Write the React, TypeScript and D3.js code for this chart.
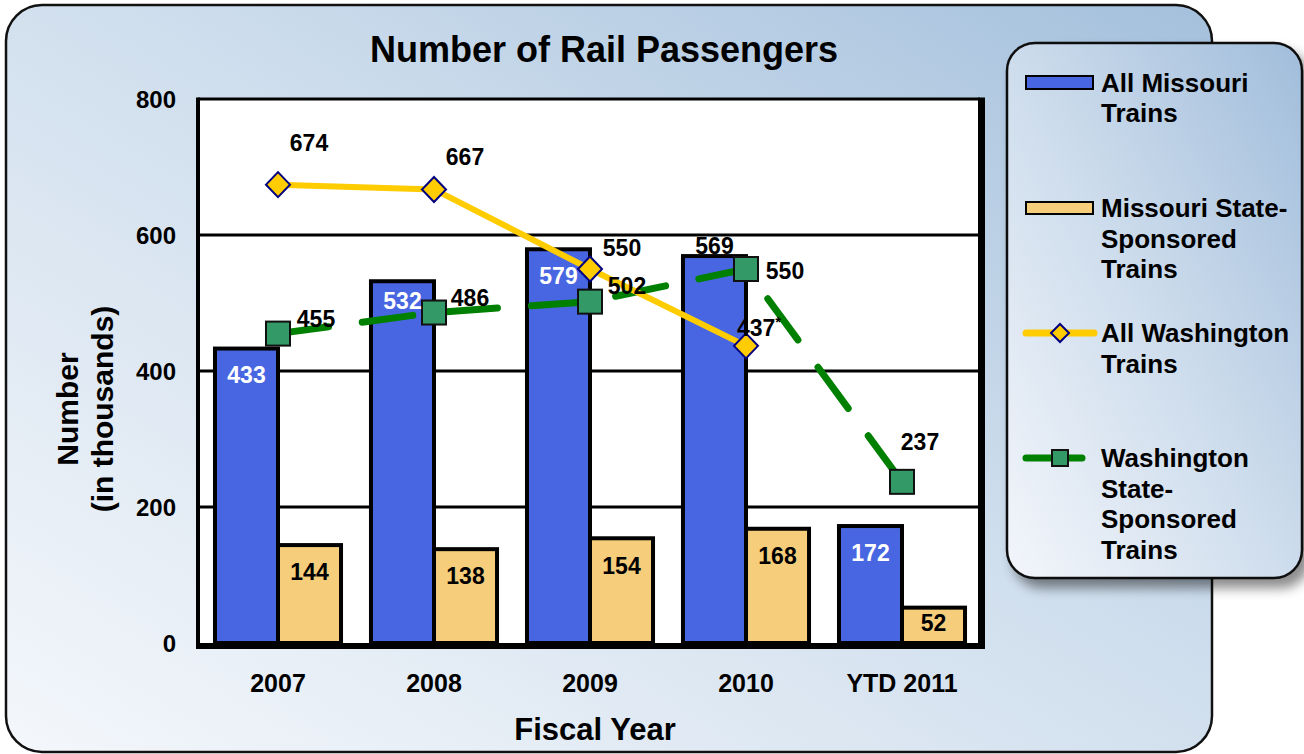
import React from "react";
import * as d3 from "d3";

const categories = ["2007", "2008", "2009", "2010", "YTD 2011"];
const allMissouri = [433, 532, 579, 569, 172];
const moStateSponsored = [144, 138, 154, 168, 52];
const allWashington = [674, 667, 550, 437];
const waStateSponsored = [455, 486, 502, 550, 237];
const yTicks = [0, 200, 400, 600, 800];

// label offsets (relative to the marker) for line series
const washLabelOffsets: [number, number][] = [[31, -42], [31, -32], [32, -21], [13, -18]];
const waStateLabelOffsets: [number, number][] = [[38, -15], [36, -15], [37, -16], [39, 2], [18, -40]];
// label offsets (from top of bar) for bars
const blueLabelDy = [26, 20, 27, -10, 27];
const blueLabelInside = [true, true, true, false, true];
const tanLabelDy = [27, 27, 28, 27, 15];

const FONT = "'Liberation Sans', Arial, sans-serif";
const BLUE = "#4866E1";
const TAN = "#F6CE7B";
const YELLOW = "#FFCC00";
const GREEN = "#008000";
const SQUARE = "#339966";

export default function App() {
  const W = 1304, H = 754;
  const plotL = 198, plotR = 980, plotT = 99, plotB = 643;
  const x = d3.scaleBand<string>().domain(categories).range([200, 980]).paddingInner(0.192).paddingOuter(0.096);
  const y = d3.scaleLinear().domain([0, 800]).range([plotB, plotT]);
  const bw = x.bandwidth();
  const half = bw / 2;
  const cx = (i: number) => (x(categories[i]) as number) + half;

  const line = d3.line<number>().x((_, i) => cx(i)).y((d) => y(d));

  return (
    <svg width={W} height={H} style={{ position: "absolute", left: 0, top: 0 }} fontFamily={FONT}>
      <defs>
        <linearGradient id="panelGrad" x1="0" y1="1" x2="1" y2="0">
          <stop offset="0" stopColor="#f4f7fb" />
          <stop offset="0.55" stopColor="#cfdeed" />
          <stop offset="1" stopColor="#a4c0dc" />
        </linearGradient>
        <linearGradient id="legGrad" x1="0" y1="1" x2="1" y2="0">
          <stop offset="0" stopColor="#f3f6fb" />
          <stop offset="0.5" stopColor="#cddcec" />
          <stop offset="1" stopColor="#a1bddb" />
        </linearGradient>
        <filter id="shadow" x="-10%" y="-10%" width="130%" height="130%">
          <feDropShadow dx="7" dy="9" stdDeviation="6" floodColor="#000" floodOpacity="0.45" />
        </filter>
      </defs>

      {/* outer panel */}
      <rect x={6} y={5} width={1206} height={747} rx={36} ry={36} fill="url(#panelGrad)" stroke="#111" strokeWidth={2.5} />

      {/* title */}
      <text x={604} y={62} textAnchor="middle" fontSize={36} fontWeight="bold" fill="#000">Number of Rail Passengers</text>

      {/* plot area */}
      <rect x={plotL} y={plotT} width={plotR - plotL} height={plotB - plotT} fill="#fff" />
      {yTicks.filter((t) => t > 0 && t < 800).map((t) => (
        <line key={t} x1={plotL} x2={plotR} y1={y(t)} y2={y(t)} stroke="#000" strokeWidth={3} />
      ))}

      {/* bars */}
      {allMissouri.map((v, i) => (
        <rect key={"b" + i} x={x(categories[i]) as number} y={y(v)} width={half} height={plotB - y(v)} fill={BLUE} stroke="#000" strokeWidth={4} />
      ))}
      {moStateSponsored.map((v, i) => (
        <rect key={"t" + i} x={cx(i)} y={y(v)} width={half} height={plotB - y(v)} fill={TAN} stroke="#000" strokeWidth={4} />
      ))}

      {/* frame */}
      <line x1={plotL} x2={plotR} y1={plotT} y2={plotT} stroke="#000" strokeWidth={3} />
      <line x1={plotL} x2={plotL} y1={plotT - 1.5} y2={plotB + 6} stroke="#000" strokeWidth={4} />
      <line x1={plotR + 1.5} x2={plotR + 1.5} y1={plotT - 1.5} y2={plotB + 6} stroke="#000" strokeWidth={7} />
      <line x1={plotL - 2} x2={plotR + 5} y1={plotB + 3} y2={plotB + 3} stroke="#000" strokeWidth={6} />

      {/* green dashed line */}
      <path d={line(waStateSponsored) as string} fill="none" stroke={GREEN} strokeWidth={7} strokeDasharray="51 34" strokeLinecap="round" />
      {/* yellow line */}
      <path d={line(allWashington) as string} fill="none" stroke={YELLOW} strokeWidth={6} strokeLinejoin="round" />

      {/* markers */}
      {waStateSponsored.map((v, i) => (
        <rect key={"s" + i} x={cx(i) - 12} y={y(v) - 12} width={24} height={24} fill={SQUARE} stroke="#111" strokeWidth={2} />
      ))}
      {allWashington.map((v, i) => (
        <path key={"d" + i} d={`M${cx(i)},${y(v) - 12.5}L${cx(i) + 12},${y(v)}L${cx(i)},${y(v) + 12.5}L${cx(i) - 12},${y(v)}Z`} fill={YELLOW} stroke="#000080" strokeWidth={2} />
      ))}

      {/* bar labels */}
      {allMissouri.map((v, i) => (
        <text key={"bl" + i} x={(x(categories[i]) as number) + half / 2} y={y(v) + blueLabelDy[i]} textAnchor="middle" dominantBaseline="central" fontSize={23} fontWeight="bold" fill={blueLabelInside[i] ? "#fff" : "#000"}>{v}</text>
      ))}
      {moStateSponsored.map((v, i) => (
        <text key={"tl" + i} x={cx(i) + half / 2} y={y(v) + tanLabelDy[i]} textAnchor="middle" dominantBaseline="central" fontSize={23} fontWeight="bold" fill="#000">{v}</text>
      ))}
      {/* line labels */}
      {waStateSponsored.map((v, i) => (
        <text key={"gl" + i} x={cx(i) + waStateLabelOffsets[i][0]} y={y(v) + waStateLabelOffsets[i][1]} textAnchor="middle" dominantBaseline="central" fontSize={23} fontWeight="bold" fill="#000">{v}</text>
      ))}
      {allWashington.map((v, i) => (
        <text key={"yl" + i} x={cx(i) + washLabelOffsets[i][0]} y={y(v) + washLabelOffsets[i][1]} textAnchor="middle" dominantBaseline="central" fontSize={23} fontWeight="bold" fill="#000">
          {v}
          {i === 3 ? <tspan fontSize={15} dy={-7}>*</tspan> : null}
        </text>
      ))}

      {/* y ticks */}
      {yTicks.map((t) => (
        <text key={"yt" + t} x={176} y={y(t)} textAnchor="end" dominantBaseline="central" fontSize={24} fontWeight="bold" fill="#000">{t}</text>
      ))}
      {/* x ticks */}
      {categories.map((c, i) => (
        <text key={"xt" + c} x={cx(i)} y={692} textAnchor="middle" fontSize={25} fontWeight="bold" fill="#000">{c}</text>
      ))}
      {/* axis titles */}
      <text x={595} y={740} textAnchor="middle" fontSize={31} fontWeight="bold" fill="#000">Fiscal Year</text>
      <text transform="translate(78,409) rotate(-90)" textAnchor="middle" fontSize={30} fontWeight="bold" fill="#000">Number</text>
      <text transform="translate(113,409) rotate(-90)" textAnchor="middle" fontSize={30} fontWeight="bold" fill="#000">(in thousands)</text>

      {/* legend */}
      <g>
        <rect x={1007} y={43} width={295} height={535} rx={28} ry={28} fill="url(#legGrad)" stroke="#111" strokeWidth={2.5} filter="url(#shadow)" />
        <rect x={1026} y={76} width={67} height={13} fill={BLUE} stroke="#000" strokeWidth={2} />
        <rect x={1026} y={202} width={67} height={12} fill={TAN} stroke="#000" strokeWidth={2} />
        <line x1={1026} x2={1094} y1={333} y2={333} stroke={YELLOW} strokeWidth={7} strokeLinecap="round" />
        <path d="M1060,324L1069,333L1060,342L1051,333Z" fill={YELLOW} stroke="#000080" strokeWidth={2} />
        <line x1={1026} x2={1082} y1={458} y2={458} stroke={GREEN} strokeWidth={7} strokeLinecap="round" />
        <rect x={1052} y={450} width={16} height={16} fill={SQUARE} stroke="#111" strokeWidth={2} />
        <g fontSize={26} fontWeight="bold" fill="#000">
          <text x={1101} y={92}>All Missouri</text>
          <text x={1101} y={122}>Trains</text>
          <text x={1101} y={217}>Missouri State-</text>
          <text x={1101} y={248}>Sponsored</text>
          <text x={1101} y={278}>Trains</text>
          <text x={1101} y={342}>All Washington</text>
          <text x={1101} y={373}>Trains</text>
          <text x={1101} y={467}>Washington</text>
          <text x={1101} y={498}>State-</text>
          <text x={1101} y={528}>Sponsored</text>
          <text x={1101} y={559}>Trains</text>
        </g>
      </g>
    </svg>
  );
}
